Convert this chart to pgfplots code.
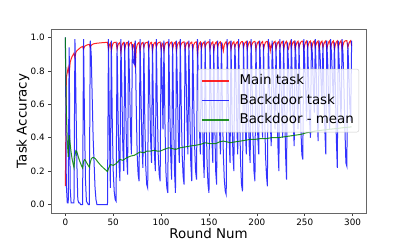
\documentclass[border=0pt]{standalone}
\usepackage{fontspec}
\setmainfont{DejaVu Sans}
\usepackage{pgfplots}
\usepackage{pgfplotstable}
\pgfplotsset{compat=1.18}

\pgfplotstableread{
r m b
0 0.11 1.0
1 0.76 0.12
2 0.79 0.01
3 0.82 0.01
4 0.78 0.94
5 0.85 0.10
6 0.87 0.01
7 0.885 0.01
8 0.895 0.01
9 0.905 0.01
10 0.88 0.99
11 0.91 0.65
12 0.92 0.25
13 0.925 0.03
14 0.93 0.01
15 0.935 0.01
16 0.94 0.0
17 0.943 0.0
18 0.946 0.0
19 0.93 0.99
20 0.945 0.50
21 0.95 0.15
22 0.953 0.02
23 0.955 0.01
24 0.957 0.0
25 0.958 0.0
26 0.94 0.98
27 0.952 0.90
28 0.957 0.65
29 0.96 0.40
30 0.962 0.25
31 0.963 0.10
32 0.964 0.03
33 0.965 0.0
34 0.966 0.0
35 0.966 0.0
36 0.967 0.0
37 0.967 0.0
38 0.968 0.0
39 0.968 0.0
40 0.969 0.0
41 0.969 0.0
42 0.97 0.0
43 0.97 0.0
44 0.971 0.0
45 0.93 0.99
46 0.955 0.45
47 0.965 0.10
48 0.92 0.98
49 0.95 0.50
50 0.965 0.20
51 0.97 0.08
52 0.97 0.03
53 0.971 0.02
54 0.93 0.97
55 0.955 0.55
56 0.965 0.25
57 0.97 0.14
58 0.91 0.99
59 0.95 0.70
60 0.965 0.35
61 0.97 0.20
62 0.93 0.97
63 0.955 0.60
64 0.968 0.30
65 0.97 0.18
66 0.94 0.98
67 0.96 0.75
68 0.968 0.45
69 0.97 0.30
70 0.93 0.96
71 0.95 0.85
72 0.96 0.84
73 0.82 0.98
74 0.93 0.60
75 0.955 0.30
76 0.965 0.18
77 0.97 0.14
78 0.92 0.99
79 0.955 0.65
80 0.967 0.35
81 0.97 0.22
82 0.94 0.97
83 0.96 0.50
84 0.968 0.22
85 0.97 0.12
86 0.972 0.10
87 0.93 0.98
88 0.955 0.70
89 0.967 0.40
90 0.97 0.25
91 0.92 0.96
92 0.955 0.55
93 0.967 0.30
94 0.97 0.20
95 0.94 0.99
96 0.96 0.60
97 0.968 0.30
98 0.97 0.18
99 0.972 0.14
100 0.93 0.97
101 0.955 0.75
102 0.965 0.45
103 0.92 0.98
104 0.955 0.50
105 0.967 0.20
106 0.97 0.10
107 0.972 0.07
108 0.94 0.99
109 0.96 0.60
110 0.968 0.30
111 0.972 0.15
112 0.93 0.97
113 0.955 0.55
114 0.967 0.20
115 0.972 0.07
116 0.92 0.98
117 0.955 0.70
118 0.967 0.40
119 0.972 0.25
120 0.94 0.99
121 0.96 0.60
122 0.968 0.30
123 0.972 0.17
124 0.973 0.12
125 0.93 0.97
126 0.955 0.80
127 0.967 0.50
128 0.972 0.30
129 0.94 0.98
130 0.96 0.55
131 0.968 0.25
132 0.972 0.14
133 0.93 0.96
134 0.955 0.65
135 0.967 0.35
136 0.972 0.20
137 0.973 0.15
138 0.90 0.99
139 0.945 0.70
140 0.965 0.45
141 0.972 0.30
142 0.93 0.97
143 0.955 0.60
144 0.968 0.30
145 0.972 0.16
146 0.94 0.98
147 0.96 0.55
148 0.968 0.25
149 0.972 0.12
150 0.974 0.07
151 0.93 0.99
152 0.955 0.70
153 0.968 0.40
154 0.973 0.25
155 0.92 0.96
156 0.955 0.50
157 0.968 0.20
158 0.973 0.12
159 0.94 0.98
160 0.96 0.75
161 0.97 0.45
162 0.974 0.30
163 0.93 0.97
164 0.955 0.60
165 0.92 0.30
166 0.955 0.15
167 0.968 0.08
168 0.974 0.06
169 0.94 0.99
170 0.96 0.70
171 0.97 0.40
172 0.974 0.25
173 0.93 0.98
174 0.955 0.55
175 0.968 0.30
176 0.974 0.20
177 0.94 0.96
178 0.96 0.80
179 0.97 0.50
180 0.974 0.30
181 0.93 0.99
182 0.955 0.55
183 0.968 0.25
184 0.974 0.12
185 0.975 0.08
186 0.94 0.97
187 0.96 0.70
188 0.97 0.45
189 0.975 0.30
190 0.93 0.98
191 0.955 0.60
192 0.97 0.35
193 0.975 0.25
194 0.94 0.99
195 0.96 0.75
196 0.97 0.40
197 0.975 0.20
198 0.976 0.14
199 0.93 0.97
200 0.955 0.65
201 0.97 0.40
202 0.975 0.30
203 0.94 0.98
204 0.96 0.80
205 0.97 0.55
206 0.975 0.40
207 0.93 0.96
208 0.955 0.60
209 0.97 0.30
210 0.975 0.18
211 0.976 0.11
212 0.94 0.99
213 0.96 0.75
214 0.92 0.50
215 0.955 0.35
216 0.94 0.98
217 0.96 0.80
218 0.972 0.60
219 0.976 0.45
220 0.93 0.97
221 0.955 0.65
222 0.97 0.35
223 0.976 0.20
224 0.94 0.99
225 0.96 0.80
226 0.972 0.55
227 0.976 0.40
228 0.93 0.98
229 0.955 0.60
230 0.97 0.30
231 0.976 0.15
232 0.94 0.97
233 0.93 0.85
234 0.96 0.65
235 0.975 0.50
236 0.94 0.99
237 0.96 0.75
238 0.972 0.50
239 0.977 0.35
240 0.93 0.98
241 0.955 0.85
242 0.97 0.60
243 0.977 0.45
244 0.94 0.97
245 0.96 0.70
246 0.972 0.45
247 0.977 0.30
248 0.978 0.27
249 0.93 0.99
250 0.955 0.85
251 0.972 0.65
252 0.978 0.50
253 0.94 0.98
254 0.96 0.75
255 0.973 0.50
256 0.978 0.40
257 0.93 0.97
258 0.955 0.90
259 0.972 0.70
260 0.978 0.55
261 0.94 0.99
262 0.96 0.80
263 0.973 0.55
264 0.978 0.38
265 0.93 0.98
266 0.955 0.90
267 0.972 0.75
268 0.978 0.60
269 0.94 0.97
270 0.96 0.70
271 0.973 0.45
272 0.979 0.30
273 0.93 0.98
274 0.955 0.85
275 0.972 0.60
276 0.979 0.45
277 0.94 0.99
278 0.96 0.90
279 0.973 0.75
280 0.979 0.60
281 0.93 0.97
282 0.955 0.70
283 0.972 0.40
284 0.979 0.22
285 0.94 0.98
286 0.96 0.85
287 0.973 0.65
288 0.98 0.50
289 0.93 0.99
290 0.955 0.90
291 0.972 0.70
292 0.978 0.45
293 0.98 0.25
294 0.98 0.23
295 0.94 0.97
296 0.96 0.80
297 0.974 0.60
298 0.98 0.50
299 0.95 0.98
}\maindata

\pgfplotstableread{
r g
0 1.0
1 0.56
2 0.377
3 0.285
4 0.416
5 0.363
6 0.313
7 0.275
8 0.246
9 0.222
10 0.292
11 0.322
12 0.316
13 0.296
14 0.277
15 0.26
16 0.245
17 0.231
18 0.219
19 0.258
20 0.269
21 0.264
22 0.253
23 0.243
24 0.233
25 0.224
26 0.252
27 0.272
28 0.28
29 0.282
30 0.28
31 0.276
32 0.27
33 0.262
34 0.255
35 0.248
36 0.241
37 0.235
38 0.229
39 0.224
40 0.218
41 0.213
42 0.208
43 0.203
44 0.198
45 0.215
47 0.24
50 0.235
53 0.245
57 0.27
60 0.265
64 0.28
68 0.29
72 0.295
75 0.305
78 0.315
82 0.31
85 0.32
89 0.32
93 0.325
96 0.32
99 0.32
103 0.33
108 0.34
112 0.335
115 0.33
120 0.34
125 0.345
130 0.35
136 0.355
141 0.36
146 0.37
151 0.365
157 0.365
161 0.375
165 0.38
169 0.375
172 0.37
177 0.375
183 0.38
188 0.385
193 0.39
198 0.39
204 0.395
210 0.395
215 0.40
222 0.40
228 0.405
234 0.41
240 0.415
246 0.42
252 0.43
257 0.435
261 0.44
268 0.445
275 0.45
283 0.455
290 0.46
299 0.465
}\greendata

\begin{document}
\begin{tikzpicture}
\path (-51pt,-31pt) rectangle (356pt,213pt);
\begin{axis}[
  scale only axis,
  width=315pt, height=184pt,
  xmin=-15, xmax=314, ymin=-0.05, ymax=1.05,
  xtick={0,50,100,150,200,250,300},
  ytick={0,0.2,0.4,0.6,0.8,1.0},
  /pgf/number format/assume math mode=true,
  yticklabel style={/pgf/number format/.cd,fixed,fixed zerofill,precision=1},
  tick label style={font=\fontsize{8.8}{10}\selectfont},
  label style={font=\fontsize{13.4}{16}\selectfont},
  tick align=outside,
  major tick length=2.8pt,
  xtick pos=lower, ytick pos=left,
  tick style={black!75, line width=0.6pt},
  axis line style={black!60, line width=0.8pt},
  xlabel={Round Num}, ylabel={Task Accuracy},
  xlabel style={at={(axis description cs:0.5,-0.114)}, anchor=center},
  ylabel style={at={(axis description cs:-0.089,0.5)}, anchor=center},
  legend style={at={(0.978,0.611)}, anchor=east,
    font=\fontsize{13.4}{16}\selectfont,
    draw=black!20, rounded corners=2pt, fill=white, fill opacity=0.8, text opacity=1,
    inner xsep=3pt, inner ysep=3.5pt, row sep=2.5pt, column sep=8pt,
    nodes={inner sep=2pt, text height=10pt, text depth=3pt}},
  legend cell align=left,
  legend image code/.code={\draw[#1, line width=1.4pt] (0pt,0pt) -- (27pt,0pt);},
]
\addplot[red, line width=1pt, opacity=0.85] table[x=r, y=m] {\maindata};
\addlegendentry{Main task}
\addplot[blue, line width=1pt, opacity=0.8] table[x=r, y=b] {\maindata};
\addlegendentry{Backdoor task}
\addplot[green!50!black, line width=1pt, opacity=0.85] table[x=r, y=g] {\greendata};
\addlegendentry{Backdoor - mean}
\end{axis}
\end{tikzpicture}
\end{document}
